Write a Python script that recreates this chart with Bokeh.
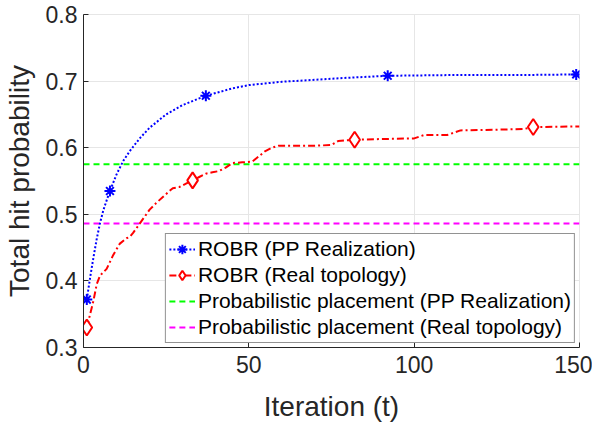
from bokeh.plotting import figure
from bokeh.models import Range1d, Legend, LegendItem, FixedTicker
from bokeh.embed import file_html
from bokeh.resources import INLINE

# ---- data ----
blue_t = [1, 2, 3, 4, 5, 6, 7, 8, 10, 12, 14, 17, 20, 25, 30, 37, 45, 50, 60, 70,
          80, 92, 110, 130, 149, 150]
blue_y = [0.372, 0.405, 0.435, 0.463, 0.487, 0.506, 0.521, 0.535, 0.560, 0.580,
          0.595, 0.614, 0.630, 0.650, 0.664, 0.678, 0.689, 0.694, 0.699, 0.702,
          0.705, 0.708, 0.709, 0.709, 0.710, 0.710]
blue_marker_t = [1, 8, 37, 92, 149]

red_t = [1, 2, 3, 4, 5, 7, 9, 11, 13, 14, 15, 17, 19, 20, 22, 24, 26, 27, 29, 31,
         33, 35, 37, 39, 41, 43, 45, 48, 51, 53, 55, 57, 59, 65, 70, 75, 77, 82,
         90, 100, 103, 110, 114, 125, 133, 136, 150]
red_y = [0.330, 0.350, 0.370, 0.395, 0.408, 0.418, 0.439, 0.456, 0.464, 0.466,
         0.472, 0.486, 0.500, 0.507, 0.517, 0.526, 0.535, 0.539, 0.541, 0.546,
         0.551, 0.556, 0.561, 0.563, 0.565, 0.570, 0.577, 0.578, 0.579, 0.587,
         0.595, 0.600, 0.603, 0.603, 0.603, 0.604, 0.610, 0.612, 0.613, 0.614,
         0.619, 0.619, 0.626, 0.627, 0.628, 0.631, 0.632]
red_marker_t = [1, 33, 82, 136]

pp_prob_level = 0.575
real_prob_level = 0.486

series_labels = ["ROBR (PP Realization)", "ROBR (Real topology)",
                 "Probabilistic placement (PP Realization)",
                 "Probabilistic placement (Real topology)"]
x_ticks = [0, 50, 100, 150]
y_ticks = [0.3, 0.4, 0.5, 0.6, 0.7, 0.8]

FONT = "Liberation Sans"
TXT = "#262626"

p = figure(width=592, height=424, output_backend="svg", toolbar_location=None,
           x_range=Range1d(0, 150), y_range=Range1d(0.3, 0.8),
           min_border_left=74, min_border_right=13, min_border_top=14,
           min_border_bottom=72)
p.background_fill_color = "white"
p.border_fill_color = "white"
p.outline_line_color = "#e6e6e6"
p.outline_line_width = 1

for ax in (p.xaxis[0], p.yaxis[0]):
    ax.axis_line_color = TXT
    ax.axis_line_width = 1
    ax.major_tick_in = 5
    ax.major_tick_out = 0
    ax.minor_tick_line_color = None
    ax.major_tick_line_color = TXT
    ax.major_label_text_font = FONT
    ax.major_label_text_font_size = "23px"
    ax.major_label_text_color = TXT
    ax.axis_label_text_font = FONT
    ax.axis_label_text_font_size = "28px"
    ax.axis_label_text_font_style = "normal"
    ax.axis_label_text_color = TXT

p.xaxis.ticker = FixedTicker(ticks=x_ticks)
p.yaxis.ticker = FixedTicker(ticks=y_ticks)
p.xaxis.axis_label = "Iteration (t)"
p.yaxis.axis_label = "Total hit probability"
p.xaxis.major_label_standoff = 8
p.yaxis.major_label_standoff = 6
p.xaxis.axis_label_standoff = 15
p.yaxis.axis_label_standoff = 8

p.xgrid.grid_line_color = "#e6e6e6"
p.ygrid.grid_line_color = "#e6e6e6"
p.xgrid.grid_line_width = 1
p.ygrid.grid_line_width = 1

# horizontal reference lines
g = p.line([0, 150], [pp_prob_level, pp_prob_level], line_color="#00ff00",
           line_width=2, line_dash="6 4")
m = p.line([0, 150], [real_prob_level, real_prob_level], line_color="#ff00ff",
           line_width=2, line_dash="6 4")

# curves
b = p.line(blue_t, blue_y, line_color="#0000ff", line_width=2, line_dash="2 2")
r = p.line(red_t, red_y, line_color="#ff0000", line_width=2, line_dash="7 3 2 3")

bm_y = [blue_y[blue_t.index(t)] for t in blue_marker_t]
rm_y = [red_y[red_t.index(t)] for t in red_marker_t]
bm = p.scatter(blue_marker_t, bm_y, marker="asterisk", size=11, line_color="#0000ff",
               line_width=2)
rm = p.scatter(red_marker_t, rm_y, marker="diamond", size=16, line_color="#ff0000",
               fill_color="white", line_width=2)

legend = Legend(items=[
    LegendItem(label=series_labels[0], renderers=[b, bm]),
    LegendItem(label=series_labels[1], renderers=[r, rm]),
    LegendItem(label=series_labels[2], renderers=[g]),
    LegendItem(label=series_labels[3], renderers=[m]),
], location="bottom_right")
legend.label_text_font = FONT
legend.label_text_font_size = "21px"
legend.label_text_color = "black"
legend.glyph_width = 26
legend.glyph_height = 24
legend.label_height = 24
legend.label_standoff = 3
legend.spacing = 2
legend.padding = 3
legend.margin = 4
legend.border_line_color = TXT
legend.border_line_width = 1
legend.background_fill_color = "white"
legend.background_fill_alpha = 1
p.add_layout(legend, "center")

open("out.html", "w").write(file_html(p, INLINE))
